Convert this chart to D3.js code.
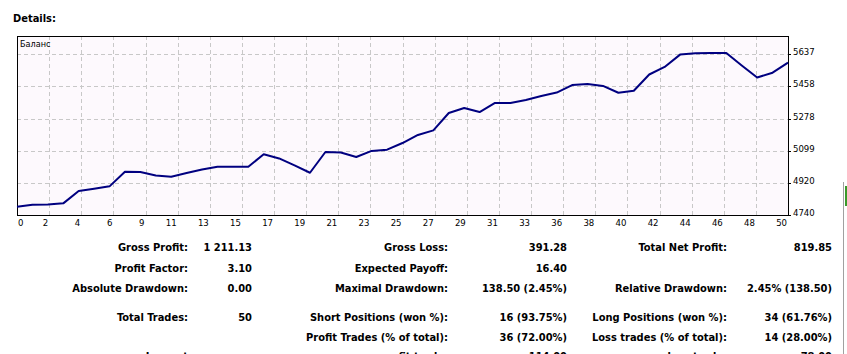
<!DOCTYPE html>
<html>
<head>
<meta charset="utf-8">
<script src="https://cdn.jsdelivr.net/npm/d3@7/dist/d3.min.js"></script>
<style>
  body { margin: 0; background: #ffffff; }
  svg { display: block; }
</style>
</head>
<body>
<div id="chart"></div>
<script>
// balance after each trade (0 = start)
var balance = [4786, 4797, 4798, 4805, 4874, 4887, 4900, 4982, 4980, 4961,
  4954, 4975, 4994, 5010, 5010, 5010, 5079, 5056, 5017, 4976,
  5092, 5089, 5064, 5098, 5105, 5142, 5187, 5213, 5310, 5338,
  5315, 5366, 5366, 5382, 5405, 5424, 5466, 5472, 5461, 5423,
  5434, 5525, 5567, 5636, 5643, 5645, 5645, 5575, 5508, 5535, 5591]

var xLabels = ["0", "2", "4", "6", "9", "11", "13", "15", "17", "19", "21", "23", "25",
  "27", "29", "31", "33", "36", "38", "40", "42", "44", "46", "48", "50"]
var yTicks = [4740, 4920, 5099, 5278, 5458, 5637]

var statLabels1 = ["Gross Profit:", "Profit Factor:", "Absolute Drawdown:", "Total Trades:", "", "Largest"]
var statValues1 = ["1 211.13", "3.10", "0.00", "50", "", ""]
var statLabels2 = ["Gross Loss:", "Expected Payoff:", "Maximal Drawdown:", "Short Positions (won %):", "Profit Trades (% of total):", "profit trade:"]
var statValues2 = ["391.28", "16.40", "138.50 (2.45%)", "16 (93.75%)", "36 (72.00%)", "114.00"]
var statLabels3 = ["Total Net Profit:", "", "Relative Drawdown:", "Long Positions (won %):", "Loss trades (% of total):", "loss trade:"]
var statValues3 = ["819.85", "", "2.45% (138.50)", "34 (61.76%)", "14 (28.00%)", "-78.00"]

var W = 847, H = 354
var margin = { top: 36, right: 59, bottom: 139, left: 17 }
var innerWidth = W - margin.left - margin.right,
  innerHeight = H - margin.top - margin.bottom

var font = "'DejaVu Sans Condensed', 'DejaVu Sans', sans-serif"

var svg = d3.select("#chart").append("svg")
  .attr("width", W)
  .attr("height", H)
  .style("font-family", font)

svg.append("text")
  .attr("x", 13).attr("y", 22)
  .attr("font-size", 11).attr("font-weight", "bold")
  .text("Details:")

var g = svg.append("g")
  .attr("transform", "translate(" + margin.left + "," + margin.top + ")")

var x = d3.scaleLinear().domain([0, balance.length - 1]).range([0, innerWidth])
var y = d3.scaleLinear().domain([4740, 5740]).range([innerHeight, 0])

g.append("rect")
  .attr("width", innerWidth).attr("height", innerHeight)
  .attr("fill", "#fdf9fd")

// vertical grid, one per x label
var step = (balance.length - 1) / (xLabels.length - 1)
g.selectAll(".vgrid")
  .data(xLabels.slice(1, -1))
  .join("line")
  .attr("x1", function (d, i) { return Math.round(x((i + 1) * step)) + 0.5 })
  .attr("x2", function (d, i) { return Math.round(x((i + 1) * step)) + 0.5 })
  .attr("y1", 0).attr("y2", innerHeight + 3)
  .attr("stroke", "#c8c8c8")
  .attr("stroke-dasharray", "4,3")

g.selectAll(".hgrid")
  .data(yTicks.slice(1))
  .join("line")
  .attr("x1", 0).attr("x2", innerWidth)
  .attr("y1", function (d) { return Math.round(y(d)) + 0.5 })
  .attr("y2", function (d) { return Math.round(y(d)) + 0.5 })
  .attr("stroke", "#c8c8c8")
  .attr("stroke-dasharray", "4,3")

// frame
g.append("rect")
  .attr("x", 0.5).attr("y", 0.5)
  .attr("width", innerWidth).attr("height", innerHeight)
  .attr("fill", "none")
  .attr("stroke", "#000")

g.append("text")
  .attr("x", 3).attr("y", 11)
  .attr("font-size", 9)
  .text("Баланс")

// x labels
g.selectAll(".xl")
  .data(xLabels)
  .join("text")
  .attr("x", function (d, i) { return i == 0 ? 1 : x(i * step) - 1 })
  .attr("y", innerHeight + 11)
  .attr("text-anchor", function (d, i) { return i == 0 ? "start" : "end" })
  .attr("font-size", 9.5)
  .text(function (d) { return d })

// y labels on the right
g.selectAll(".ytick")
  .data(yTicks)
  .join("line")
  .attr("x1", innerWidth + 1).attr("x2", innerWidth + 3)
  .attr("y1", function (d) { return Math.round(y(d)) + 0.5 })
  .attr("y2", function (d) { return Math.round(y(d)) + 0.5 })
  .attr("stroke", "#000")

g.selectAll(".yl")
  .data(yTicks)
  .join("text")
  .attr("x", innerWidth + 5)
  .attr("y", function (d) { return y(d) + 1 })
  .attr("font-size", 9.5)
  .text(function (d) { return d })

g.append("path")
  .datum(balance)
  .attr("fill", "none")
  .attr("stroke", "#000080")
  .attr("stroke-width", 2)
  .attr("stroke-linejoin", "round")
  .attr("d", d3.line()
    .x(function (d, i) { return x(i) })
    .y(function (d) { return y(d) })
  )

// bit of another panel at the right edge
svg.append("line")
  .attr("x1", 843.5).attr("x2", 843.5).attr("y1", 182).attr("y2", H)
  .attr("stroke", "#a0a0a0")
svg.append("rect")
  .attr("x", 845).attr("y", 186).attr("width", 2).attr("height", 20)
  .attr("fill", "#3a9a2a")

// statistics table (last row is cut by the bottom edge, as in the original)
var rowY = [251, 272, 292, 321, 341, 360]
var cols = [
  { labels: statLabels1, values: statValues1, lx: 188, vx: 252 },
  { labels: statLabels2, values: statValues2, lx: 448, vx: 567 },
  { labels: statLabels3, values: statValues3, lx: 727, vx: 832 }
]
cols.forEach(function (c) {
  svg.append("g").selectAll("text")
    .data(c.labels)
    .join("text")
    .attr("x", c.lx)
    .attr("y", function (d, i) { return rowY[i] })
    .attr("text-anchor", "end")
    .attr("font-size", 11).attr("font-weight", "bold")
    .text(function (d) { return d })
  svg.append("g").selectAll("text")
    .data(c.values)
    .join("text")
    .attr("x", c.vx)
    .attr("y", function (d, i) { return rowY[i] })
    .attr("text-anchor", "end")
    .attr("font-size", 11).attr("font-weight", "bold")
    .text(function (d) { return d })
})
</script>
</body>
</html>
